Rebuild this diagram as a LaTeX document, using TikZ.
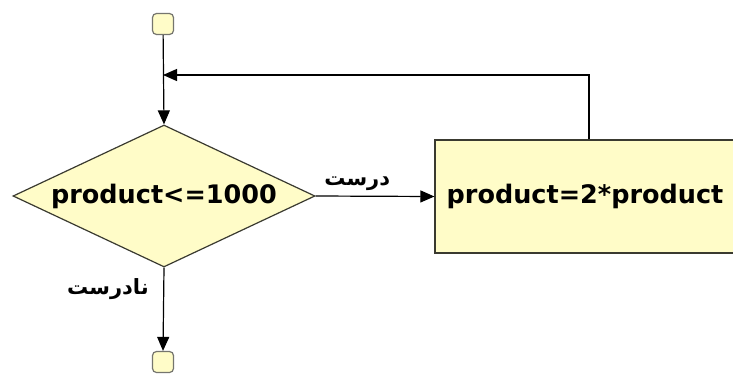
\documentclass[tikz,border=0pt]{standalone}
\usepackage{fontspec}
\setmainfont{DejaVu Sans}
\newfontfamily\arabicfont[Script=Arabic]{DejaVu Sans}
\TeXXeTstate=1
\usetikzlibrary{shapes.geometric,arrows.meta}
\definecolor{boxfill}{HTML}{FFFCC8}
\definecolor{boxline}{HTML}{3A3A30}
\begin{document}
\begin{tikzpicture}[x=1pt,y=-1pt,
  flow/.style={draw=black,line width=1.2pt,-{Triangle[length=14pt,width=12pt]}},
  term/.style={draw=boxline!70,fill=boxfill,line width=1.2pt,rounded corners=4pt,
    minimum width=21pt,minimum height=21pt,inner sep=0pt},
  decision/.style={diamond,aspect=2.127,draw=boxline,fill=boxfill,line width=1.2pt,
    minimum width=302pt,minimum height=142pt,inner sep=0pt,
    font=\bfseries\fontsize{25.5}{30}\selectfont},
  process/.style={rectangle,draw=boxline,fill=boxfill,line width=1.2pt,
    minimum width=300pt,minimum height=113pt,inner sep=0pt,
    font=\bfseries\fontsize{25.5}{30}\selectfont},
  lbl/.style={font=\arabicfont\bfseries\fontsize{21}{24}\selectfont,inner sep=1pt}]
\useasboundingbox (0,0) rectangle (733,383);
\clip (0,0) rectangle (733,383);
\fill[white] (0,0) rectangle (733,383);

\node[term] (start) at (163,24) {};
\node[decision] (dec) at (164,196) {product<=1000};
\node[process] (proc) at (585,196.5) {product=2*product};
\node[term] (stop) at (163,362) {};
\coordinate (join) at (163,75);

\draw[flow] (start) -- (dec.north);
\draw[flow] (dec.east) -- (proc.west)
  node[lbl,pos=0.35,above=4pt] {\beginR درست\endR};
\draw[flow] (proc.north -| 589,0) |- (join);
\draw[flow] (dec.south) -- (stop.north);
\node[lbl] at (108,289) {\beginR نادرست\endR};
\end{tikzpicture}
\end{document}
